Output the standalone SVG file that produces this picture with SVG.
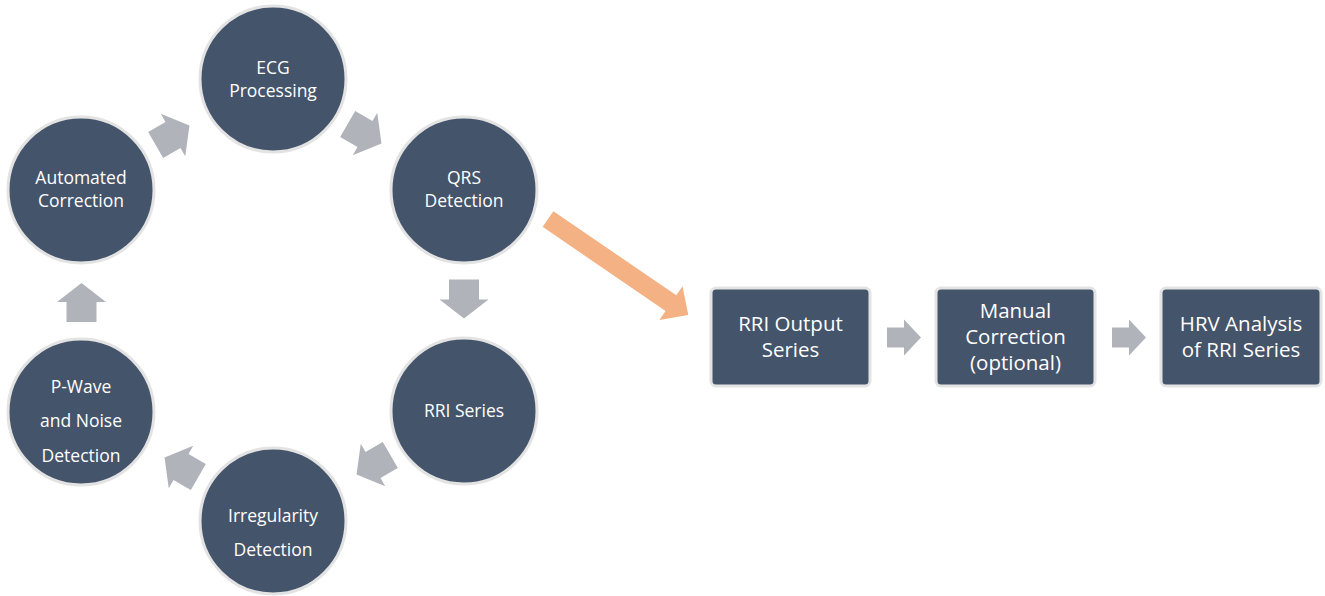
<svg xmlns="http://www.w3.org/2000/svg" width="1325" height="596" viewBox="0 0 1325 596">
<style>
.c{fill:#44546a;stroke:#e3e3e3;stroke-width:3}
.b{fill:#44546a;stroke:#e3e3e3;stroke-width:3}
.t{font-family:"Open Sans",sans-serif;font-size:17.5px;fill:#ffffff;text-anchor:middle}
.tb{font-family:"Open Sans",sans-serif;font-size:20.5px;fill:#ffffff;text-anchor:middle}
.ga{fill:#b0b3ba}
.oa{fill:#f4b183}
</style>
<defs>
<path id="garrow" d="M-20,-15 L0,-15 L0,-24.5 L19,0 L0,24.5 L0,15 L-20,15 Z"/>
<path id="harrow" d="M-17,-10 L0,-10 L0,-18 L17,0 L0,18 L0,10 L-17,10 Z"/>
</defs>
<g id="connectors">
<use href="#garrow" class="ga" transform="translate(173,135) rotate(-30)"/>
<use href="#garrow" class="ga" transform="translate(365,134) rotate(30)"/>
<use href="#garrow" class="ga" transform="translate(464,299.5) rotate(90)"/>
<use href="#garrow" class="ga" transform="translate(373,465) rotate(150)"/>
<use href="#garrow" class="ga" transform="translate(181,467) rotate(-150)"/>
<use href="#garrow" class="ga" transform="translate(81.5,302) rotate(-90)"/>
<path class="oa" d="M0,-9.5 L149,-9.5 L149,-20.5 L170,0 L149,20.5 L149,9.5 L0,9.5 Z" transform="translate(548,219) rotate(34.4)"/>
<use href="#harrow" class="ga" transform="translate(904,337.5)"/>
<use href="#harrow" class="ga" transform="translate(1129,337.5)"/>
</g>
<g id="ecg"><circle class="c" cx="273" cy="79" r="73"/><text class="t" x="273" y="74">ECG</text><text class="t" x="273" y="97">Processing</text></g>
<g id="qrs"><circle class="c" cx="464" cy="190" r="73"/><text class="t" x="464" y="184">QRS</text><text class="t" x="464" y="207">Detection</text></g>
<g id="rri"><circle class="c" cx="464" cy="411" r="73"/><text class="t" x="464" y="417">RRI Series</text></g>
<g id="irregularity"><circle class="c" cx="273" cy="521" r="73"/><text class="t" x="273" y="522">Irregularity</text><text class="t" x="273" y="556">Detection</text></g>
<g id="pwave"><circle class="c" cx="81" cy="412" r="73"/><text class="t" x="81" y="393">P-Wave</text><text class="t" x="81" y="427">and Noise</text><text class="t" x="81" y="462">Detection</text></g>
<g id="automated"><circle class="c" cx="81" cy="190" r="73"/><text class="t" x="81" y="184">Automated</text><text class="t" x="81" y="207">Correction</text></g>
<g id="rri-output"><rect class="b" x="711" y="288" width="159" height="98" rx="5"/><text class="tb" x="790.5" y="331">RRI Output</text><text class="tb" x="790.5" y="357">Series</text></g>
<g id="manual"><rect class="b" x="936" y="288" width="159" height="98" rx="5"/><text class="tb" x="1015.5" y="318">Manual</text><text class="tb" x="1015.5" y="344">Correction</text><text class="tb" x="1015.5" y="370">(optional)</text></g>
<g id="hrv"><rect class="b" x="1161" y="288" width="160" height="98" rx="5"/><text class="tb" x="1241" y="331">HRV Analysis</text><text class="tb" x="1241" y="357">of RRI Series</text></g>
</svg>
